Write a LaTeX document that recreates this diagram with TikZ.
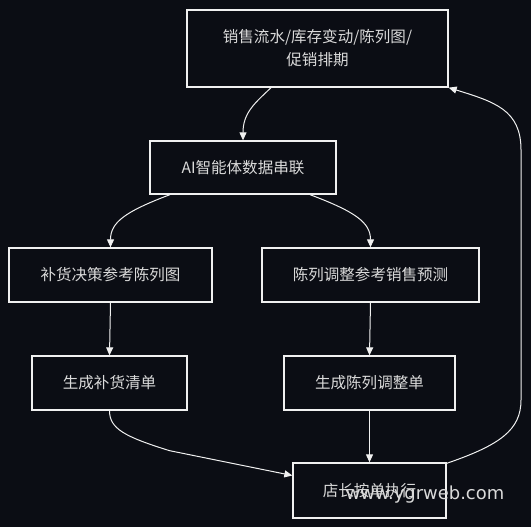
\documentclass[tikz,border=0pt]{standalone}
\usepackage{fontspec}
\newfontfamily\cjk{Noto Sans CJK SC}
\newfontfamily\wmfont{DejaVu Sans}
\usetikzlibrary{arrows.meta,calc}
\definecolor{bgc}{RGB}{11,13,20}
\definecolor{txt}{RGB}{218,218,218}
\definecolor{edgec}{RGB}{240,240,240}
\begin{document}
\begin{tikzpicture}[x=1bp,y=-1bp,
  box/.style={draw=edgec, line width=1.3bp, rectangle, inner sep=0pt, text=txt,
    font=\cjk\fontsize{15.6}{23}\selectfont, align=center},
  conn/.style={draw=edgec, line width=1bp, -{Triangle[width=7bp,length=8bp]}}]
\useasboundingbox (0,0) rectangle (531,527);
\fill[bgc] (0,0) rectangle (531,527);
\node[box, minimum width=261bp, minimum height=77bp] (b1) at (317.5,48.5) {销售流水/库存变动/陈列图/\\促销排期};
\node[box, minimum width=186bp, minimum height=53bp] (b2) at (243,167.5) {AI智能体数据串联};
\node[box, minimum width=203bp, minimum height=54bp] (b3) at (110.5,275) {补货决策参考陈列图};
\node[box, minimum width=217bp, minimum height=54bp] (b4) at (370.5,275) {陈列调整参考销售预测};
\node[box, minimum width=155bp, minimum height=54bp] (b5) at (109.5,383) {生成补货清单};
\node[box, minimum width=171bp, minimum height=54bp] (b6) at (369.5,383) {生成陈列调整单};
\node[box, minimum width=153bp, minimum height=55bp] (b7) at (369.5,490.5) {店长按单执行};
% connectors
\draw[conn] ($(b1.south)+(-46.5,0)$) .. controls ($(b1.south)+(-62,15)$) and ($(b2.north)+(0,-28)$) .. (b2.north);
\draw[conn] ($(b2.south)+(-73,0)$) .. controls ($(b2.south)+(-118,17)$) and ($(b3.north)+(0,-25)$) .. (b3.north);
\draw[conn] ($(b2.south)+(67,0)$) .. controls ($(b2.south)+(112,17)$) and ($(b4.north)+(0,-25)$) .. (b4.north);
\draw[conn] (b3.south) -- (b5.north);
\draw[conn] (b4.south) -- (b6.north);
\draw[conn] (b5.south) .. controls ($(b5.south)+(0,18)$) and ($(b5.south)+(15,26)$) .. ($(b5.south)+(60,40)$) -- ($(b7.west)+(0,-15)$);
\draw[conn] (b6.south) -- (b7.north);
\coordinate (rt) at (521,400);
\coordinate (rb) at (521,150);
\draw[conn] ($(b7.north east)+(0,1)$) .. controls (500,445) and (521,430) .. (rt) -- (rb) .. controls (521,110) and (495,102) .. (b1.south east);
\node[text=txt, font=\wmfont\fontsize{18}{20}\selectfont, anchor=center] (wm) at (425,495) {www.ygrweb.com};
\end{tikzpicture}
\end{document}
